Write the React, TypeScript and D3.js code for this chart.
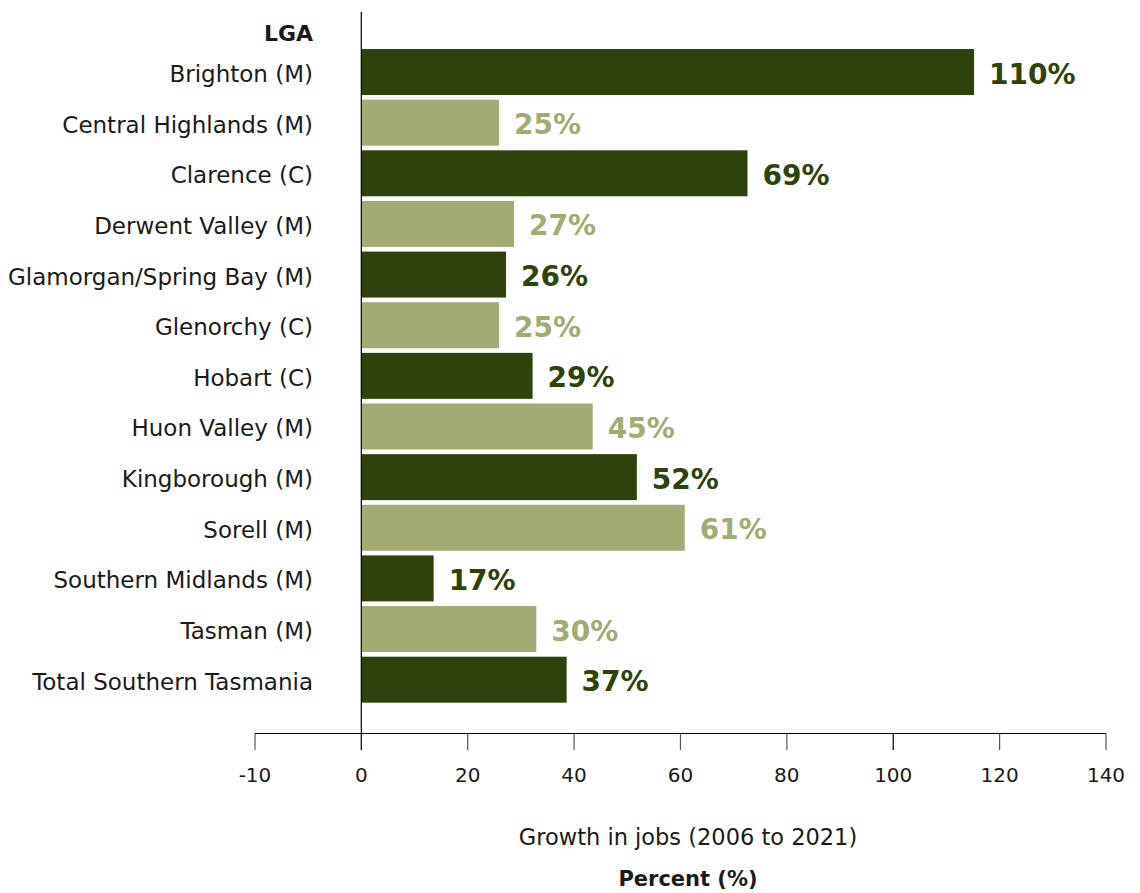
import React from "react";
import * as d3 from "d3";

const categories = [
  "Brighton (M)",
  "Central Highlands (M)",
  "Clarence (C)",
  "Derwent Valley (M)",
  "Glamorgan/Spring Bay (M)",
  "Glenorchy (C)",
  "Hobart (C)",
  "Huon Valley (M)",
  "Kingborough (M)",
  "Sorell (M)",
  "Southern Midlands (M)",
  "Tasman (M)",
  "Total Southern Tasmania",
];
const barValues = [115.2, 25.9, 72.6, 28.7, 27.2, 25.9, 32.2, 43.5, 51.8, 60.8, 13.6, 32.9, 38.6];
const valueLabels = ["110%", "25%", "69%", "27%", "26%", "25%", "29%", "45%", "52%", "61%", "17%", "30%", "37%"];
const tickValues = [-10, 0, 20, 40, 60, 80, 100, 120, 140];

const DARK = "#2D430B";
const LIGHT = "#A2AB73";
const FONT = "'DejaVu Sans', sans-serif";

export default function App() {
  const W = 1140, H = 893;
  // the reference axis spaces -10 one full tick step left of 0
  const x = d3.scaleLinear().domain([-10, 0, 140]).range([255, 361.3, 1106]);
  const y = d3.scaleBand<string>().domain(categories).range([46.7, 705]).paddingInner(0.092).paddingOuter(0.046);
  const axisY = 733.5;
  return (
    <svg width={W} height={H} style={{ position: "absolute", left: 0, top: 0, background: "#fff" }}>
      {categories.map((c, i) => {
        const yy = y(c)!;
        const cy = yy + y.bandwidth() / 2;
        const col = i % 2 === 0 ? DARK : LIGHT;
        return (
          <g key={c}>
            <rect x={x(0)} y={yy} width={x(barValues[i]) - x(0)} height={y.bandwidth()} fill={col} />
            <text x={x(barValues[i]) + 15} y={cy + 11.5} fill={col}
              fontFamily={FONT} fontWeight="bold" fontSize={28}>{valueLabels[i]}</text>
            <text x={313} y={cy + 10} textAnchor="end" fill="#1a1a1a"
              fontFamily={FONT} fontSize={23}>{c}</text>
          </g>
        );
      })}
      <text x={313} y={41} textAnchor="end" fontFamily={FONT} fontWeight="bold" fontSize={22} fill="#1a1a1a">LGA</text>
      <line x1={x(0)} x2={x(0)} y1={12} y2={axisY} stroke="#000" strokeWidth={1.2} />
      <line x1={x(-10)} x2={x(140)} y1={axisY} y2={axisY} stroke="#000" strokeWidth={1.2} />
      {tickValues.map((t) => (
        <g key={t}>
          <line x1={x(t)} x2={x(t)} y1={axisY} y2={750} stroke={t === 0 || t === 100 ? "#000" : "#555"} strokeWidth={1.2} />
          <text x={x(t)} y={782} textAnchor="middle" fontFamily={FONT} fontSize={20} fill="#1a1a1a">{t}</text>
        </g>
      ))}
      <text x={688} y={845} textAnchor="middle" fontFamily={FONT} fontSize={22.5} fill="#1a1a1a">Growth in jobs (2006 to 2021)</text>
      <text x={688} y={886} textAnchor="middle" fontFamily={FONT} fontWeight="bold" fontSize={21} fill="#1a1a1a">Percent (%)</text>
    </svg>
  );
}
